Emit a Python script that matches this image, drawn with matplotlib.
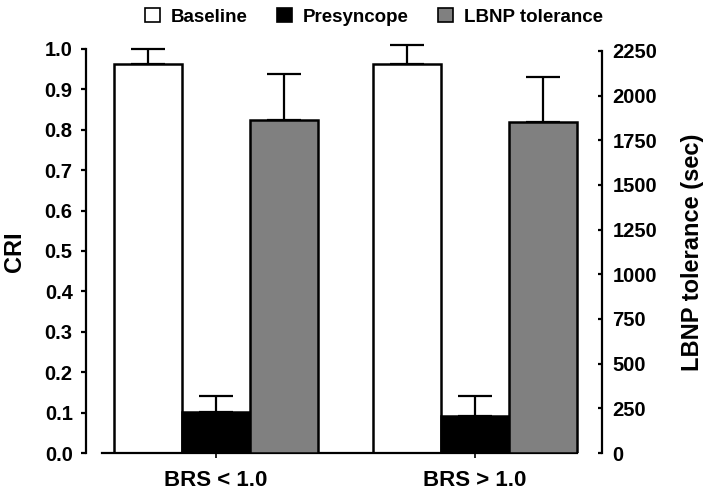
import numpy as np
import matplotlib.pyplot as plt
from matplotlib.patches import Patch

plt.rcParams['font.family'] = ['Liberation Sans', 'DejaVu Sans']
plt.rcParams['font.weight'] = 'bold'

groups = ['BRS < 1.0', 'BRS > 1.0']
baseline = [0.963, 0.963]
baseline_err = [0.037, 0.047]
presyncope = [0.102, 0.092]
presyncope_err = [0.040, 0.050]
lbnp = [1864, 1854]
lbnp_err = [257, 252]

x = np.arange(len(groups))
w = 0.262

fig = plt.figure(figsize=(7.09, 4.98), dpi=100)
ax = fig.add_axes([86/709, 1-453/498, (602-86)/709, (453-49)/498])
ax2 = ax.twinx()

ekw = dict(ecolor='black', elinewidth=1.6, capthick=1.6, capsize=12, fmt='none', zorder=1)
ax.bar(x - w, baseline, w, color='white', edgecolor='black', linewidth=1.8, zorder=2)
eb1 = ax.errorbar(x - w, baseline, yerr=[np.zeros(2), baseline_err], **ekw)
ax.bar(x, presyncope, w, color='black', edgecolor='black', linewidth=1.8, zorder=2)
eb2 = ax.errorbar(x, presyncope, yerr=[np.zeros(2), presyncope_err], **ekw)
ax2.bar(x + w, lbnp, w, color='#808080', edgecolor='black', linewidth=1.8, zorder=2)
eb3 = ax2.errorbar(x + w, lbnp, yerr=[np.zeros(2), lbnp_err], **ekw)
for eb in (eb1, eb2, eb3):
    for art in eb.get_children():
        art.set_clip_on(False)

ax.set_xlim(-0.5, 1.49)
ax.set_ylim(0, 1.0)
ax2.set_ylim(0, 2250 * 404 / 402)

ticks = np.arange(0, 1.01, 0.1)
ax.set_yticks(ticks)
ax.set_yticklabels([f'{v:.1f}' for v in ticks])
ax2.set_yticks(np.arange(0, 2251, 250))
ax.set_xticks(x)
ax.set_xticklabels(groups, fontsize=16, fontweight='bold')

for a in (ax, ax2):
    a.spines['top'].set_visible(False)
    for s in a.spines.values():
        s.set_linewidth(1.6)
ax.spines['right'].set_visible(False)
ax2.spines['left'].set_visible(False)
ax2.spines['bottom'].set_visible(False)
ax.spines['left'].set_bounds(0, 1.0)
ax2.spines['right'].set_bounds(0, 2250)
ax.spines['bottom'].set_bounds(-0.44, 1 + 1.5 * w)

ax.tick_params(axis='y', direction='out', length=3.6, width=1.6, labelsize=14.5, pad=6)
ax.tick_params(axis='x', direction='out', length=3.5, width=1.2, pad=9)
ax2.tick_params(axis='y', direction='in', length=3, width=1.6, labelsize=14.5, pad=7.5)

fig.text(14/709, 1-252/498, 'CRI', rotation=90, fontsize=17, fontweight='bold',
         ha='center', va='center')
fig.text(692/709, 1-252/498, 'LBNP tolerance (sec)', rotation=90, fontsize=17,
         fontweight='bold', ha='center', va='center')

handles = [Patch(facecolor='white', edgecolor='black', linewidth=1.2),
           Patch(facecolor='black', edgecolor='black', linewidth=1.2),
           Patch(facecolor='#808080', edgecolor='black', linewidth=1.2)]
fig.legend(handles, ['Baseline', 'Presyncope', 'LBNP tolerance'], loc='center',
           bbox_to_anchor=(374/709, 1-17/498), ncol=3, frameon=False,
           prop={'size': 13.5, 'weight': 'bold'}, handlelength=0.8, handleheight=0.8,
           handletextpad=0.6, columnspacing=1.55)

fig.savefig('out.png', dpi=100)
